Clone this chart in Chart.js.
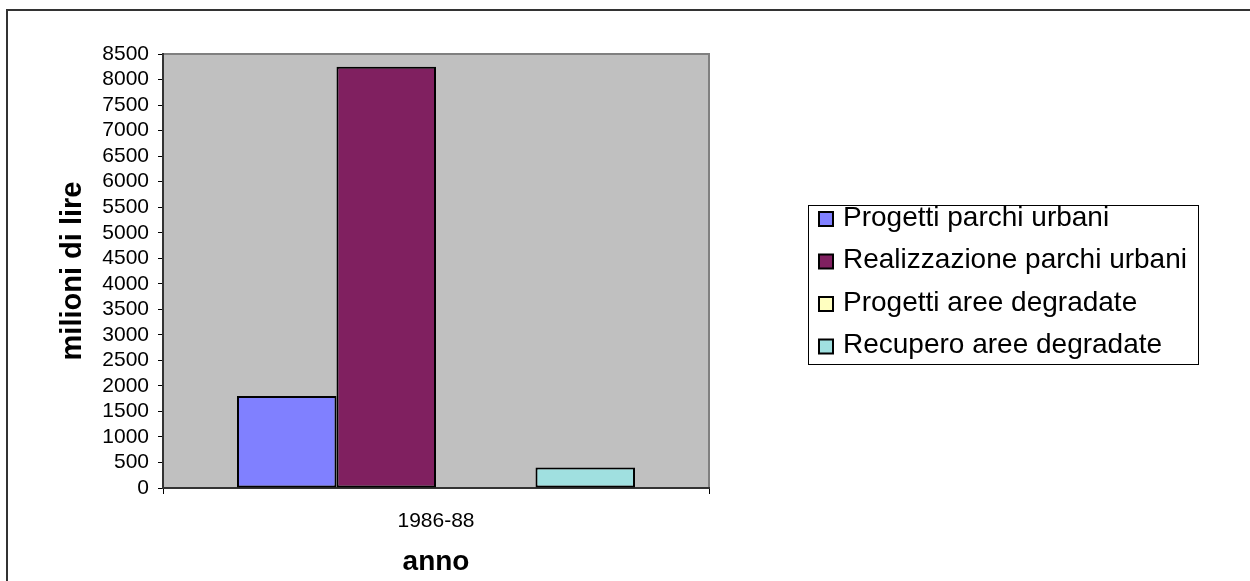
<!DOCTYPE html>
<html>
<head>
<meta charset="utf-8">
<script src="https://cdn.jsdelivr.net/npm/chart.js@4.4.1/dist/chart.umd.min.js"></script>
<style>
  html, body { margin: 0; padding: 0; background: #ffffff; }
  #wrap { width: 1250px; height: 581px; }
</style>
</head>
<body>
<div id="wrap"><canvas id="c" width="1250" height="581"></canvas></div>
<script>
// Spending on urban parks and degraded areas, 1986-88 (millions of lire)
const categories = ['1986-88'];
const seriesNames = [
  'Progetti parchi urbani',
  'Realizzazione parchi urbani',
  'Progetti aree degradate',
  'Recupero aree degradate'
];
const progettiParchi = [1800];
const realizzazioneParchi = [8250];
const progettiAree = [0];
const recuperoAree = [400];
const seriesColors = ['#8080FF', '#802060', '#FFFFC0', '#A0E0E0'];
const yMin = 0, yMax = 8500, yStep = 500;

const FONT = '"Liberation Sans", Arial, sans-serif';

const seriesValues = [progettiParchi, realizzazioneParchi, progettiAree, recuperoAree];
const datasets = seriesNames.map((name, i) => ({
  label: name,
  data: seriesValues[i],
  backgroundColor: seriesColors[i],
  borderColor: '#000000',
  borderWidth: 2,
  borderSkipped: false,
  categoryPercentage: 0.729,
  barPercentage: 1.0
}));

// Plot-area fill, plot border, legend box and outer frame
const decor = {
  id: 'decor',
  beforeDraw(chart) {
    const { ctx, chartArea: a } = chart;
    ctx.save();
    ctx.fillStyle = '#C0C0C0';
    ctx.fillRect(a.left, a.top, a.right - a.left, a.bottom - a.top);
    ctx.strokeStyle = '#808080';
    ctx.lineWidth = 2;
    ctx.beginPath();
    ctx.moveTo(a.left, a.top);
    ctx.lineTo(a.right, a.top);
    ctx.lineTo(a.right, a.bottom);
    ctx.stroke();
    ctx.restore();
  },
  afterDraw(chart) {
    const { ctx } = chart;
    ctx.save();
    // outer frame
    ctx.strokeStyle = '#333333';
    ctx.lineWidth = 2;
    ctx.beginPath();
    ctx.moveTo(7, 600);
    ctx.lineTo(7, 10);
    ctx.lineTo(1260, 10);
    ctx.stroke();

    // legend
    const lx = 808, ly = 205, lw = 390, lh = 159;
    ctx.fillStyle = '#ffffff';
    ctx.fillRect(lx, ly, lw, lh);
    ctx.strokeStyle = '#000000';
    ctx.lineWidth = 1;
    ctx.strokeRect(lx + 0.5, ly + 0.5, lw, lh);
    ctx.font = '28px ' + FONT;
    ctx.textBaseline = 'middle';
    ctx.textAlign = 'left';
    chart.data.datasets.forEach((ds, i) => {
      const cy = 218 + i * 42.5;
      ctx.fillStyle = ds.backgroundColor;
      ctx.fillRect(819, cy - 6, 14, 14);
      ctx.strokeStyle = '#000000';
      ctx.lineWidth = 2;
      ctx.strokeRect(819, cy - 6, 14, 14);
      ctx.fillStyle = '#000000';
      ctx.fillText(ds.label, 843, cy);
    });
    ctx.restore();
  }
};

new Chart(document.getElementById('c'), {
  type: 'bar',
  data: { labels: categories, datasets },
  plugins: [decor],
  options: {
    responsive: false,
    devicePixelRatio: 1,
    animation: false,
    layout: { padding: { left: 0, top: 54, right: 541, bottom: 0 } },
    plugins: {
      legend: { display: false },
      tooltip: { enabled: false }
    },
    scales: {
      x: {
        offset: true,
        grid: {
          offset: true,
          drawOnChartArea: false,
          drawTicks: true,
          tickLength: 6,
          color: '#000000'
        },
        border: { display: true, color: '#333333', width: 2 },
        ticks: { color: '#000000', font: { family: FONT, size: 21 }, padding: 15 },
        title: {
          display: true,
          text: 'anno',
          color: '#000000',
          font: { family: FONT, size: 28, weight: 'bold' },
          padding: { top: 0, bottom: 2 }
        },
        afterFit(scale) { scale.height = 93; }
      },
      y: {
        min: yMin,
        max: yMax,
        grid: {
          drawOnChartArea: false,
          drawTicks: true,
          tickLength: 5,
          color: '#000000'
        },
        border: { display: true, color: '#333333', width: 2 },
        ticks: {
          stepSize: yStep,
          autoSkip: false,
          color: '#000000',
          font: { family: FONT, size: 21, lineHeight: 1.0 },
          padding: 9,
          callback: (v) => String(v)
        },
        title: {
          display: true,
          text: 'milioni di lire',
          color: '#000000',
          font: { family: FONT, size: 29, weight: 'bold' },
          padding: { top: 56, bottom: 0 }
        },
        afterFit(scale) { scale.width = 163; }
      }
    }
  }
});
</script>
</body>
</html>
